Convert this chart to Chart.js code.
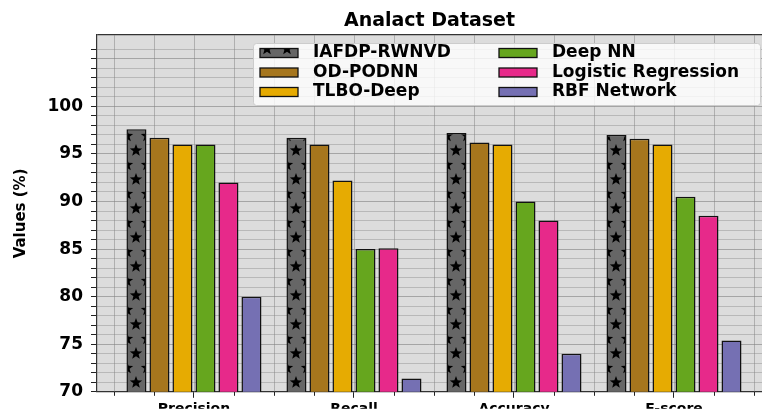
<!DOCTYPE html>
<html><head><meta charset="utf-8">
<script src="https://cdn.jsdelivr.net/npm/chart.js@4.4.1/dist/chart.umd.min.js"></script>
<style>html,body{margin:0;padding:0;background:#fff;overflow:hidden}#wrap{width:762px;height:410px;position:relative}</style>
</head><body><div id="wrap"><canvas id="c"></canvas></div>
<script>
const categories = ['Precision', 'Recall', 'Accuracy', 'F-score'];
const seriesNames = ['IAFDP-RWNVD', 'OD-PODNN', 'TLBO-Deep', 'Deep NN', 'Logistic Regression', 'RBF Network'];
const iafdpRwnvd = [97.6, 96.7, 97.2, 97.0];
const odPodnn    = [96.7, 96.0, 96.2, 96.6];
const tlboDeep   = [96.0, 92.2, 96.0, 96.0];
const deepNN     = [96.0, 85.0, 90.0, 90.5];
const logisticRegression = [92.0, 85.1, 88.0, 88.5];
const rbfNetwork = [80.0, 71.4, 74.0, 75.4];
const yTickLabels = [70, 75, 80, 85, 90, 95, 100];

const FONT = "'DejaVu Sans', sans-serif";
const canvas = document.getElementById('c');
const mainCtx = canvas.getContext('2d');

function makeStarPattern() {
  const t = document.createElement('canvas');
  t.width = 20; t.height = 29;
  const g = t.getContext('2d');
  g.fillStyle = '#666666'; g.fillRect(0, 0, 20, 29);
  g.fillStyle = '#000000';
  const star = (cx, cy, R) => {
    const r = R * 0.42;
    g.beginPath();
    for (let i = 0; i < 10; i++) {
      const a = -Math.PI / 2 + i * Math.PI / 5;
      const rr = i % 2 ? r : R;
      g.lineTo(cx + rr * Math.cos(a), cy + rr * Math.sin(a));
    }
    g.closePath(); g.fill();
  };
  for (const [cx, cy] of [[16, 5.5], [7, 20]])
    for (const dx of [-20, 0, 20])
      for (const dy of [-29, 0, 29]) star(cx + dx, cy + dy, 6.5);
  return mainCtx.createPattern(t, 'repeat');
}
const starPattern = makeStarPattern();

const seriesValues = [iafdpRwnvd, odPodnn, tlboDeep, deepNN, logisticRegression, rbfNetwork];
const seriesColors = [starPattern, '#a6761d', '#e6ab02', '#66a61e', '#e7298a', '#7570b3'];

const bgPlugin = {
  id: 'plotBg',
  beforeDraw(chart) {
    const { ctx, chartArea: a } = chart;
    ctx.save();
    ctx.fillStyle = '#dcdcdc';
    ctx.fillRect(a.left, a.top, a.right - a.left, a.bottom - a.top);
    ctx.restore();
  }
};

const minorXPlugin = {
  id: 'minorX',
  beforeDatasetsDraw(chart) {
    const { ctx, chartArea: a } = chart;
    const xs = chart.scales.x;
    ctx.save();
    for (let k = -4; k <= 20; k++) {
      const v = k * 0.25;
      const px = Math.round(xs.getPixelForValue(v)) + 0.5;
      if (px <= a.left + 1 || px > a.right) continue;
      ctx.strokeStyle = 'rgba(130,130,130,0.5)';
      ctx.lineWidth = 1;
      ctx.beginPath(); ctx.moveTo(px, a.top); ctx.lineTo(px, a.bottom); ctx.stroke();
      if (k % 4 !== 0) {
        ctx.strokeStyle = '#222';
        ctx.beginPath(); ctx.moveTo(px, a.bottom); ctx.lineTo(px, a.bottom + 4); ctx.stroke();
      }
    }
    ctx.restore();
  }
};

const legendPlugin = {
  id: 'gridLegend',
  afterDraw(chart) {
    const { ctx, chartArea: a } = chart;
    const ds = chart.data.datasets;
    const R = a.right - 1, L = R - 508, T = a.top + 8, B = a.top + 70;
    ctx.save();
    ctx.beginPath();
    ctx.roundRect(L + 0.5, T + 0.5, R - L - 1, B - T, 3);
    ctx.fillStyle = 'rgba(255,255,255,0.8)';
    ctx.fill();
    ctx.strokeStyle = '#cccccc';
    ctx.lineWidth = 1;
    ctx.stroke();
    ctx.font = 'bold 17px ' + FONT;
    ctx.textBaseline = 'middle';
    ctx.textAlign = 'left';
    const colSw = [L + 7, L + 246];
    const colTx = [L + 60, L + 299];
    for (let i = 0; i < ds.length; i++) {
      const col = Math.floor(i / 3), row = i % 3;
      const cy = T + 10 + row * 19.5;
      ctx.fillStyle = ds[i].backgroundColor;
      ctx.fillRect(colSw[col], cy - 4.5, 38, 9);
      ctx.strokeStyle = '#111';
      ctx.lineWidth = 1.3;
      ctx.strokeRect(colSw[col], cy - 4.5, 38, 9);
      ctx.fillStyle = '#000';
      ctx.fillText(ds[i].label, colTx[col], cy);
    }
    ctx.restore();
  }
};

new Chart(canvas, {
  type: 'bar',
  data: {
    labels: categories,
    datasets: seriesNames.map((name, i) => ({
      label: name,
      data: seriesValues[i],
      backgroundColor: seriesColors[i],
      borderColor: '#111111',
      borderWidth: 1.5,
      borderSkipped: false,
      categoryPercentage: 0.8625,
      barPercentage: 0.87
    }))
  },
  options: {
    responsive: true,
    maintainAspectRatio: false,
    animation: false,
    devicePixelRatio: 1,
    layout: { padding: 0 },
    plugins: {
      legend: { display: false },
      tooltip: { enabled: false },
      title: {
        display: true,
        text: 'Analact Dataset',
        fullSize: false,
        color: '#000',
        font: { family: FONT, size: 19, weight: 'bold' },
        padding: { top: 9.5, bottom: 2.7 }
      }
    },
    scales: {
      x: {
        type: 'category',
        offset: true,
        afterBuildTicks: (s) => { s._startValue = -0.606; s._valueRange = 4.156; },
        afterFit: (s) => { s.height = 17; },
        grid: { display: true, drawOnChartArea: false, offset: false, tickLength: 6, tickColor: '#222' },
        border: { display: true, color: '#333', width: 1.2 },
        ticks: { color: '#000', font: { family: FONT, size: 14, weight: 'bold' }, padding: 3, maxRotation: 0, autoSkip: false }
      },
      y: {
        min: 70,
        max: 107.5,
        afterFit: (s) => { s.width = 97; },
        ticks: {
          stepSize: 1,
          autoSkip: false,
          color: '#000',
          padding: 8,
          font: { family: FONT, size: 17, weight: 'bold' },
          callback: (v) => yTickLabels.includes(v) ? String(v) : ''
        },
        grid: {
          tickLength: 6,
          color: (c) => {
            const v = c.tick ? c.tick.value : 0;
            if (v > 107) return '#333333';
            return v % 5 === 0 ? 'rgba(120,120,120,0.55)' : 'rgba(140,140,140,0.45)';
          },
          lineWidth: (c) => (c.tick && c.tick.value > 107) ? 1.2 : 1,
          tickColor: (c) => (c.tick && c.tick.value > 107) ? 'rgba(0,0,0,0)' : '#222'
        },
        border: { display: true, color: '#333', width: 1.2 },
        title: {
          display: true,
          text: 'Values (%)',
          color: '#000',
          font: { family: FONT, size: 15, weight: 'bold' },
          padding: { top: 12, bottom: 0 }
        }
      }
    }
  },
  plugins: [bgPlugin, minorXPlugin, legendPlugin]
});
</script>
</body></html>
